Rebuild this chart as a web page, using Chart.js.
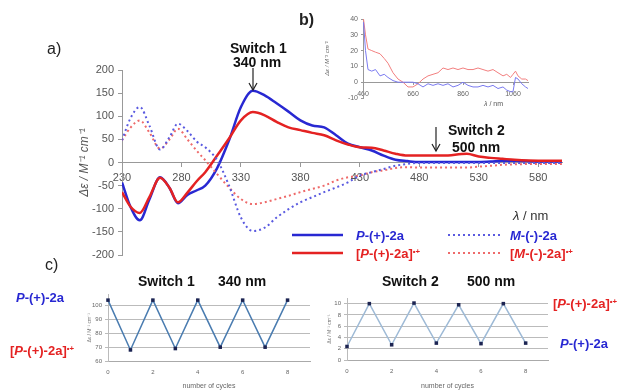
<!DOCTYPE html>
<html>
<head>
<meta charset="utf-8">
<script src="https://cdn.jsdelivr.net/npm/chart.js@4/dist/chart.umd.min.js"></script>
<style>
  body { margin: 0; background: #fff; }
  #page { position: relative; width: 627px; height: 390px; overflow: hidden; font-family: Arial, "Liberation Sans", sans-serif; }
  canvas { position: absolute; }
  .t { position: absolute; white-space: nowrap; font-weight: bold; line-height: 1; }
  .blue { color: #2828d2; }
  .red { color: #e42222; }
  .small { position: absolute; white-space: nowrap; color: #555; line-height: 1; }
  sup { font-size: 60%; vertical-align: 0.55em; line-height: 0; }
  svg { position: absolute; left: 0; top: 0; }
</style>
</head>
<body>
<div id="page">
  <canvas id="mainChart" width="505" height="215" style="left:70px; top:55px"></canvas>
  <canvas id="insetChart" width="215" height="100" style="left:320px; top:10px"></canvas>
  <canvas id="cycle1" width="245" height="102" style="left:75px; top:288px"></canvas>
  <canvas id="cycle2" width="243" height="102" style="left:315px; top:288px"></canvas>

  <svg width="627" height="390">
    <!-- arrows -->
    <line x1="253" y1="68" x2="253" y2="90" stroke="#222" stroke-width="1.2"/>
    <polyline points="249,83 253,90 257,83" fill="none" stroke="#222" stroke-width="1.2"/>
    <line x1="436" y1="127" x2="436" y2="151" stroke="#222" stroke-width="1.2"/>
    <polyline points="432,144 436,151 440,144" fill="none" stroke="#222" stroke-width="1.2"/>
    <!-- legend samples -->
    <line x1="292" y1="235" x2="343" y2="235" stroke="#2828d2" stroke-width="2.5"/>
    <line x1="292" y1="253" x2="343" y2="253" stroke="#e42222" stroke-width="2.5"/>
    <line x1="448" y1="235" x2="500" y2="235" stroke="#5a5ae0" stroke-width="2" stroke-dasharray="2,3"/>
    <line x1="448" y1="253" x2="500" y2="253" stroke="#ee6a6a" stroke-width="2" stroke-dasharray="2,3"/>
  </svg>

  <div class="t" style="left:47px; top:41px; font-size:16px; font-weight:normal; color:#222">a)</div>
  <div class="t" style="left:299px; top:12px; font-size:16px; color:#222">b)</div>
  <div class="t" style="left:45px; top:257px; font-size:16px; font-weight:normal; color:#222">c)</div>

  <div class="t" style="left:230px; top:41px; font-size:14px; color:#111">Switch 1</div>
  <div class="t" style="left:233px; top:55px; font-size:14px; color:#111">340 nm</div>
  <div class="t" style="left:448px; top:123px; font-size:14px; color:#111">Switch 2</div>
  <div class="t" style="left:452px; top:140px; font-size:14px; color:#111">500 nm</div>
  <div class="t" style="left:513px; top:209px; font-size:13px; font-weight:normal; color:#333"><i>λ</i> / nm</div>
  <div class="small" style="left:484px; top:100px; font-size:7px"><i>λ</i> / nm</div>

  <div class="t blue" style="left:356px; top:229px; font-size:13px"><i>P</i>-(+)-2a</div>
  <div class="t red" style="left:356px; top:247px; font-size:13px">[<i>P</i>-(+)-2a]<sup>•+</sup></div>
  <div class="t blue" style="left:510px; top:229px; font-size:13px"><i>M</i>-(-)-2a</div>
  <div class="t red" style="left:510px; top:247px; font-size:13px">[<i>M</i>-(-)-2a]<sup>•+</sup></div>

  <div class="t" style="left:138px; top:274px; font-size:14px; color:#111">Switch 1</div>
  <div class="t" style="left:218px; top:274px; font-size:14px; color:#111">340 nm</div>
  <div class="t" style="left:382px; top:274px; font-size:14px; color:#111">Switch 2</div>
  <div class="t" style="left:467px; top:274px; font-size:14px; color:#111">500 nm</div>

  <div class="t blue" style="left:16px; top:291px; font-size:13px"><i>P</i>-(+)-2a</div>
  <div class="t red" style="left:10px; top:344px; font-size:13px">[<i>P</i>-(+)-2a]<sup>•+</sup></div>
  <div class="t red" style="left:553px; top:297px; font-size:13px">[<i>P</i>-(+)-2a]<sup>•+</sup></div>
  <div class="t blue" style="left:560px; top:337px; font-size:13px"><i>P</i>-(+)-2a</div>
</div>

<script>
// panel a) CD spectra
const wavelengths = [230, 237, 245, 253, 262, 270, 277, 285, 293, 300, 310, 320, 330, 340, 350, 360, 370, 380, 390, 400,
  410, 420, 430, 440, 450, 460, 470, 480, 500, 520, 530, 540, 550, 560, 580, 600];
const pPlus = [-43, -95, -125, -80, -32, -55, -88, -70, -60, -50, -12, 48, 120, 155, 145, 128, 110, 91, 80, 76,
  59, 41, 33, 26, 15, 6, 3, 1, 1, 1, 1, 2, 4, 4, 2, 2];
const pPlusRad = [-64, -95, -109, -75, -33, -55, -86, -65, -40, -21, 15, 52, 91, 109, 102, 88, 76, 70, 64, 59,
  48, 39, 33, 32, 26, 19, 15, 15, 15, 19, 13, 10, 8, 6, 4, 4];
const mMinus = [48, 95, 120, 80, 28, 55, 84, 68, 45, 33, 5, -50, -119, -148, -141, -119, -101, -86, -75, -64,
  -54, -43, -28, -21, -14, -7, -3, -1, -1, -1, -1, -1, -1, -1, -1, -1];
const mMinusRad = [48, 75, 91, 65, 30, 50, 73, 50, 25, 5, -25, -54, -79, -90, -86, -79, -72, -64, -57, -50,
  -39, -32, -28, -21, -17, -12, -10, -11, -11, -11, -9, -7, -5, -4, -3, -3];
const mainXTicks = [230, 280, 330, 380, 430, 480, 530, 580];

// panel b) near-IR inset
const insetWl = [462, 470, 480, 495, 510, 528, 545, 560, 580, 600, 620, 640, 660, 680, 700, 720, 740, 760, 780, 800,
  820, 840, 860, 880, 900, 920, 940, 960, 980, 1000, 1020, 1035, 1050, 1060, 1070, 1080, 1095, 1110, 1120];
const insetRad = [40, 30, 21, 20, 19, 18, 15, 12, 6, 2, 0, -3, -3, -1, 2, 4, 5, 6, 9, 8,
  9, 8, 9, 8, 8, 9, 8, 7, 8, 6, 4, 5, 3, 5, 7, 4, 2, 2, 1];
const insetNeutral = [38, 20, 8, 7, 8, 4, 5, 3, 1, 0, 0, 0, 0, -1, -3, -1, -2, -1, -2, -1,
  -3, -2, 0, -2, -3, -3, -2, -3, -2, -4, -3, -5, -6, -6, 3, 2, -1, -3, -4];
const insetXTicks = [460, 660, 860, 1060];

// panel c) switching cycles
const cycles = [0, 1, 2, 3, 4, 5, 6, 7, 8];
const switch1 = [104, 68, 104, 69, 104, 70, 104, 70, 104];
const switch2 = [2.4, 10, 2.7, 10.1, 3, 9.8, 2.9, 10, 3];
const cycleTicks = [0, 2, 4, 6, 8];
const switch1Ticks = [60, 70, 80, 90, 100];
const switch2Ticks = [0, 2, 4, 6, 8, 10];

const yTitle = "Δε / M⁻¹ cm⁻¹";
const pts = (xs, ys) => xs.map((x, i) => ({ x: x, y: ys[i] }));
const setTicks = (list) => (s) => { s.ticks = list.map((v) => ({ value: v })); };
const plain = (v) => String(v);
const base = { responsive: false, animation: false, plugins: { legend: { display: false }, tooltip: { enabled: false } } };
Chart.defaults.font.family = "Arial, 'Liberation Sans', sans-serif";

new Chart(document.getElementById("mainChart"), {
  type: "line",
  data: {
    datasets: [
      { data: pts(wavelengths, mMinus), borderColor: "#5a5ae0", borderWidth: 2, borderDash: [2, 3] },
      { data: pts(wavelengths, mMinusRad), borderColor: "#ee6a6a", borderWidth: 2, borderDash: [2, 3] },
      { data: pts(wavelengths, pPlusRad), borderColor: "#e42222", borderWidth: 2.5 },
      { data: pts(wavelengths, pPlus), borderColor: "#2828d2", borderWidth: 2.5 }
    ]
  },
  options: {
    ...base,
    layout: { padding: { left: 0, top: 15, right: 13, bottom: 15 } },
    elements: { point: { radius: 0 }, line: { cubicInterpolationMode: "monotone" } },
    scales: {
      x: {
        type: "linear", min: 230, max: 600, position: { y: 0 },
        afterBuildTicks: setTicks(mainXTicks),
        grid: { drawOnChartArea: false, tickLength: 4, color: "#999" },
        border: { color: "#999" },
        ticks: { color: "#555", font: { size: 11 }, padding: 5, maxRotation: 0, callback: plain }
      },
      y: {
        min: -200, max: 200,
        afterFit: (s) => { s.width = 52; },
        grid: { drawOnChartArea: false, tickLength: 4, color: "#999" },
        border: { color: "#999" },
        ticks: { stepSize: 50, color: "#555", font: { size: 11 }, padding: 4 },
        title: { display: true, text: yTitle, color: "#555", font: { size: 12, style: "italic" }, padding: { top: 7, bottom: 0 } }
      }
    }
  }
});

new Chart(document.getElementById("insetChart"), {
  type: "line",
  data: {
    datasets: [
      { data: pts(insetWl, insetNeutral), borderColor: "#7a7af0", borderWidth: 1 },
      { data: pts(insetWl, insetRad), borderColor: "#f27f7f", borderWidth: 1 }
    ]
  },
  options: {
    ...base,
    layout: { padding: { left: 0, top: 9, right: 7, bottom: 12 } },
    elements: { point: { radius: 0 } },
    scales: {
      x: {
        type: "linear", min: 460, max: 1120, position: { y: 0 },
        afterBuildTicks: setTicks(insetXTicks),
        grid: { drawOnChartArea: false, tickLength: 2, color: "#999" },
        border: { color: "#999" },
        ticks: { color: "#666", font: { size: 7 }, padding: 6, maxRotation: 0, callback: plain }
      },
      y: {
        min: -10, max: 40,
        afterFit: (s) => { s.width = 43; },
        grid: { drawOnChartArea: false, tickLength: 2, color: "#999" },
        border: { color: "#999" },
        ticks: { stepSize: 10, color: "#666", font: { size: 7 }, padding: 3 },
        title: { display: true, text: yTitle, color: "#666", font: { size: 6, style: "italic" }, padding: { top: 4, bottom: 0 } }
      }
    }
  }
});

function cycleChart(id, values, yMin, yMax, yTicks, lineColor, yWidth, padTop, xHeight) {
  return new Chart(document.getElementById(id), {
    type: "line",
    data: {
      datasets: [{
        data: pts(cycles, values), borderColor: lineColor, borderWidth: 1.5, clip: false,
        pointStyle: "rect", pointRadius: 2.5, pointBackgroundColor: "#1c2452", pointBorderColor: "#1c2452", pointBorderWidth: 0
      }]
    },
    options: {
      ...base,
      layout: { padding: { left: 0, top: padTop, right: 10, bottom: 0 } },
      scales: {
        x: {
          type: "linear", min: 0, max: 9,
          afterBuildTicks: setTicks(cycleTicks),
          afterFit: (s) => { s.height = xHeight; },
          grid: { display: false, drawTicks: false },
          border: { color: "#aaa" },
          ticks: { color: "#666", font: { size: 6 }, padding: 8, maxRotation: 0 },
          title: { display: true, text: "number of cycles", color: "#666", font: { size: 7 }, padding: { top: 3, bottom: 0 } }
        },
        y: {
          min: yMin, max: yMax,
          afterBuildTicks: setTicks(yTicks),
          afterFit: (s) => { s.width = yWidth; },
          grid: { color: "#bbb", tickLength: 3, drawTicks: true },
          border: { color: "#bbb" },
          ticks: { color: "#666", font: { size: 6 }, padding: 3 },
          title: { display: true, text: yTitle, color: "#777", font: { size: 5 }, padding: { top: 12, bottom: 0 } }
        }
      }
    }
  });
}

cycleChart("cycle1", switch1, 60, 108, switch1Ticks, "#4a7cb0", 33, 6, 29);
cycleChart("cycle2", switch2, 0, 11, switch2Ticks, "#9ebad6", 32, 10, 30);
</script>
</body>
</html>
